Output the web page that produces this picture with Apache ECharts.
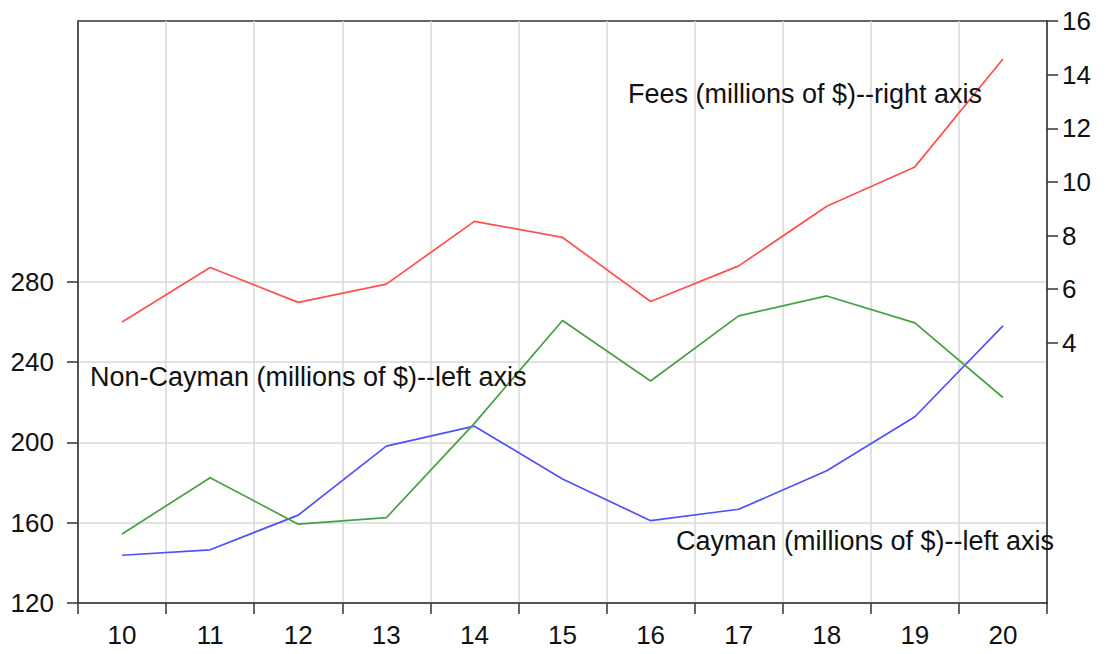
<!DOCTYPE html>
<html>
<head>
<meta charset="utf-8">
<script src="https://cdn.jsdelivr.net/npm/echarts@6/dist/echarts.min.js"></script>
<style>
html,body{margin:0;padding:0;background:#fff;}
#chart{width:1107px;height:654px;}
</style>
</head>
<body>
<div id="chart"></div>
<script>
const years = ['10','11','12','13','14','15','16','17','18','19','20'];
const cayman = [143.8, 146.5, 163.8, 198.2, 208.1, 181.8, 161.0, 166.7, 185.9, 212.8, 258.1];
const nonCayman = [154.4, 182.4, 159.3, 162.5, 209.5, 260.8, 230.6, 263.1, 273.0, 259.6, 222.4];
const fees = [4.78, 6.81, 5.51, 6.19, 8.53, 7.93, 5.54, 6.87, 9.09, 10.56, 14.58];
const leftTicks = [120, 160, 200, 240, 280];
const rightTicks = [4, 6, 8, 10, 12, 14, 16];

const FONT = '"Liberation Sans", Arial, sans-serif';
const FS = 26;
const AFS = 27;
const chart = echarts.init(document.getElementById('chart'), null, {renderer: 'svg'});
chart.setOption({
  animation: false,
  backgroundColor: '#fff',
  grid: {left: 78, right: 60, top: 21, bottom: 51, show: true, borderColor: '#333', borderWidth: 1.5, backgroundColor: 'transparent'},
  xAxis: {
    type: 'category', data: years, boundaryGap: true,
    axisLine: {onZero: false, lineStyle: {color: '#333', width: 1.5}},
    axisTick: {show: true, length: 11, lineStyle: {color: '#333', width: 1.5}},
    axisLabel: {color: '#111', fontSize: FS, fontFamily: FONT, margin: 19},
    splitLine: {show: true, lineStyle: {color: '#d8d8d8', width: 1.5}}
  },
  yAxis: [{
    type: 'value', min: 120, max: 410, position: 'left',
    axisLine: {show: true, onZero: false, lineStyle: {color: '#333', width: 1.5}},
    axisTick: {show: true, length: 11, customValues: leftTicks, lineStyle: {color: '#333', width: 1.5}},
    axisLabel: {customValues: leftTicks, color: '#111', fontSize: FS, fontFamily: FONT, margin: 24},
    splitLine: {show: true, lineStyle: {color: '#d8d8d8', width: 1.5}}
  }, {
    type: 'value', min: -5.7, max: 16, position: 'right',
    axisLine: {show: true, onZero: false, lineStyle: {color: '#333', width: 1.5}},
    axisTick: {show: true, length: 11, customValues: rightTicks, lineStyle: {color: '#333', width: 1.5}},
    axisLabel: {customValues: rightTicks, color: '#111', fontSize: FS, fontFamily: FONT, margin: 15},
    splitLine: {show: false}
  }],
  series: [
    {name: 'Cayman', type: 'line', yAxisIndex: 0, data: cayman, symbol: 'none', lineStyle: {color: '#5050ff', width: 1.7}},
    {name: 'Non-Cayman', type: 'line', yAxisIndex: 0, data: nonCayman, symbol: 'none', lineStyle: {color: '#45a045', width: 1.7}},
    {name: 'Fees', type: 'line', yAxisIndex: 1, data: fees, symbol: 'none', lineStyle: {color: '#ff5050', width: 1.7}}
  ],
  graphic: [
    {type: 'text', left: 628, top: 80, z: 100, style: {text: 'Fees (millions of $)--right axis', font: AFS + 'px ' + FONT, fill: '#111'}},
    {type: 'text', left: 90, top: 363, z: 100, style: {text: 'Non-Cayman (millions of $)--left axis', font: AFS + 'px ' + FONT, fill: '#111'}},
    {type: 'text', left: 676, top: 527, z: 100, style: {text: 'Cayman (millions of $)--left axis', font: AFS + 'px ' + FONT, fill: '#111'}}
  ]
});
</script>
</body>
</html>
